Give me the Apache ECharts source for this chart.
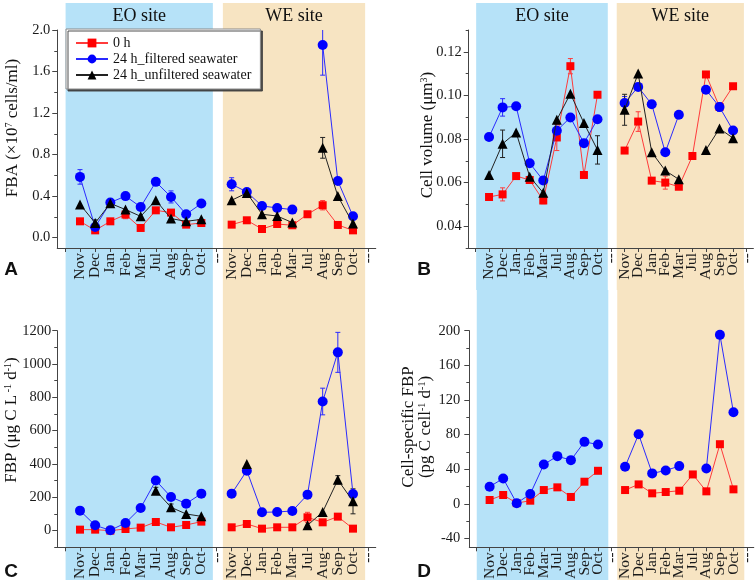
<!DOCTYPE html>
<html><head><meta charset="utf-8">
<script src="https://cdn.jsdelivr.net/npm/echarts@6/dist/echarts.min.js"></script>
<style>html,body{margin:0;padding:0;background:#fff}#c{width:755px;height:582px}</style>
</head><body><div id="c"></div>
<script>
// ---------- DATA ----------
const months = ['Nov','Dec','Jan','Feb','Mar','Jul','Aug','Sep','Oct'];
const seriesNames = ['0 h','24 h_filtered seawater','24 h_unfiltered seawater'];
const siteNames = ['EO site','WE site'];

// Panel A: FBA (x10^7 cells/ml)
const fbaEO_0h   = [0.157,0.07,0.157,0.222,0.093,0.263,0.241,0.125,0.141];
const fbaEO_filt = [0.585,0.102,0.338,0.40,0.295,0.537,0.392,0.225,0.328];
const fbaEO_unf  = [0.32,0.141,0.33,0.27,0.205,0.36,0.183,0.157,0.176];
const fbaWE_0h   = [0.125,0.167,0.083,0.131,0.119,0.225,0.312,0.122,0.07];
const fbaWE_filt = [0.514,0.44,0.305,0.286,0.27,null,1.855,0.546,0.205];
const fbaWE_unf  = [0.36,0.43,0.225,0.208,0.145,null,0.865,0.40,0.135];
const fbaErrEO_0h   = [null,null,null,0.04,null,0.02,null,null,null];
const fbaErrEO_filt = [0.07,null,null,null,null,null,0.058,null,null];
const fbaErrEO_unf  = [null,0.03,null,null,null,null,null,null,null];
const fbaErrWE_0h   = [null,null,null,null,null,null,0.045,null,null];
const fbaErrWE_filt = [0.063,null,null,null,null,null,0.29,null,null];
const fbaErrWE_unf  = [null,null,null,null,null,null,0.1,null,null];

// Panel B: Cell volume (um3)
const volEO_0h   = [0.0534,0.0546,0.063,0.0612,0.0518,0.0807,0.1134,0.0635,0.1003];
const volEO_filt = [0.0809,0.0945,0.095,0.0689,0.061,0.0838,0.0899,0.0781,0.0891];
const volEO_unf  = [0.0635,0.0778,0.083,0.0627,0.0553,0.0888,0.1008,0.0873,0.075];
const volWE_0h   = [0.0747,0.088,0.0609,0.06,0.0581,0.0722,0.1096,0.0947,0.1042];
const volWE_filt = [0.0965,0.1039,0.0959,0.0739,0.0911,null,0.1026,0.0947,0.0839];
const volWE_unf  = [0.0934,0.11,0.0739,0.0655,0.0615,null,0.075,0.0848,0.0804];
const volErrEO_0h   = [0.0015,0.003,null,null,0.0015,0.006,0.0035,null,null];
const volErrEO_filt = [0.0015,0.004,null,null,null,0.002,null,null,null];
const volErrEO_unf  = [null,0.0063,null,null,null,null,null,null,0.0065];
const volErrWE_0h   = [null,0.0045,null,0.003,null,null,null,null,null];
const volErrWE_filt = [0.003,null,null,null,null,null,null,0.002,null];
const volErrWE_unf  = [0.0071,null,null,null,null,null,null,null,null];

// Panel C: FBP (ug C L-1 d-1)
const fbpEO_0h   = [6,6,0,10,18,52,20,34,54];
const fbpEO_filt = [120,32,2,46,136,301,202,162,222];
const fbpEO_unf  = [null,null,null,null,null,240,140,100,86];
const fbpWE_0h   = [20,40,12,20,20,80,50,84,12];
const fbpWE_filt = [222,360,110,112,118,216,775,1070,220];
const fbpWE_unf  = [null,400,null,null,null,32,112,305,176];
const fbpErrEO_0h   = [null,null,null,null,null,null,null,null,null];
const fbpErrEO_filt = [null,null,null,null,null,null,null,null,null];
const fbpErrEO_unf  = [null,null,null,null,null,20,20,null,null];
const fbpErrWE_0h   = [null,null,null,null,null,30,null,null,null];
const fbpErrWE_filt = [null,null,null,null,null,null,80,120,null];
const fbpErrWE_unf  = [null,null,null,null,null,null,null,25,75];

// Panel D: Cell-specific FBP (pg C cell-1 d-1)
const csEO_0h   = [4.6,10.4,1,3.8,16.1,19.2,8.1,25.7,38.3];
const csEO_filt = [19.9,29.5,0.8,11.5,45.6,55.2,50.6,71.7,68.6];
const csWE_0h   = [16.1,22.6,12.3,13.8,15.3,34.1,14.6,69,16.9];
const csWE_filt = [42.9,80.5,35.3,38.7,43.7,null,41,195.2,105.8];

// Axis ticks
const ticksA = [0.0,0.4,0.8,1.2,1.6,2.0];   const minorA = [0.2,0.6,1.0,1.4,1.8];
const ticksB = [0.04,0.06,0.08,0.10,0.12];  const minorB = [0.03,0.05,0.07,0.09,0.11,0.13];
const ticksC = [0,200,400,600,800,1000,1200]; const minorC = [-100,100,300,500,700,900,1100];
const ticksD = [-40,0,40,80,120,160,200];   const minorD = [-20,20,60,100,140,180];

// ---------- STYLE / LAYOUT ----------
const SERIF = '"Liberation Serif","Times New Roman",serif';
const SANS = '"Liberation Sans",Arial,sans-serif';
const BLUE_BG = '#b6e2f8', BEIGE_BG = '#f7e4c2';
const styles = [
  {marker:'#ff0000', line:'#ff3b3b', symbol:'rect', size:8},
  {marker:'#0000ff', line:'#2a2aff', symbol:'circle', size:10},
  {marker:'#000000', line:'#222222', symbol:'triangle', size:10}
];
const cats = [''].concat(months, ['--'], months, ['--']);
const full = (eo, we) => [null].concat(eo, [null], we, [null]);

const panels = [
  {grid:{left:57.25, top:30, width:318.5, height:218}, min:-0.1, max:2.0, ticks:ticksA, minor:minorA, fmt:v=>v.toFixed(1), margin:7,
   eo:[fbaEO_0h,fbaEO_filt,fbaEO_unf], we:[fbaWE_0h,fbaWE_filt,fbaWE_unf],
   eoErr:[fbaErrEO_0h,fbaErrEO_filt,fbaErrEO_unf], weErr:[fbaErrWE_0h,fbaErrWE_filt,fbaErrWE_unf]},
  {grid:{left:468.7, top:30, width:284.7, height:218}, min:0.03, max:0.13, ticks:ticksB, minor:minorB, fmt:v=>v.toFixed(2), margin:7,
   eo:[volEO_0h,volEO_filt,volEO_unf], we:[volWE_0h,volWE_filt,volWE_unf],
   eoErr:[volErrEO_0h,volErrEO_filt,volErrEO_unf], weErr:[volErrWE_0h,volErrWE_filt,volErrWE_unf]},
  {grid:{left:57.25, top:330.7, width:318.5, height:217}, min:-100, max:1200, ticks:ticksC, minor:minorC, fmt:v=>String(v), margin:6,
   eo:[fbpEO_0h,fbpEO_filt,fbpEO_unf], we:[fbpWE_0h,fbpWE_filt,fbpWE_unf],
   eoErr:[fbpErrEO_0h,fbpErrEO_filt,fbpErrEO_unf], weErr:[fbpErrWE_0h,fbpErrWE_filt,fbpErrWE_unf]},
  {grid:{left:469.3, top:330.7, width:284.7, height:217}, min:-50, max:200, ticks:ticksD, minor:minorD, fmt:v=>String(v), margin:9,
   eo:[csEO_0h,csEO_filt], we:[csWE_0h,csWE_filt], eoErr:[], weErr:[]}
];

const grids = [], xAxes = [], yAxes = [], series = [];
panels.forEach((p, k) => {
  grids.push(p.grid);
  xAxes.push({type:'category', gridIndex:k, data:cats, boundaryGap:true,
    axisLine:{onZero:false, lineStyle:{color:'#444', width:1}},
    axisTick:{show:true, alignWithLabel:true, interval:0, length:4, lineStyle:{color:'#444'}},
    axisLabel:{interval:0, rotate:90, margin:5, fontFamily:SERIF, fontSize:15.5, color:'#1a1a1a'},
    splitLine:{show:false}});
  yAxes.push({type:'value', gridIndex:k, position:'left', min:p.min, max:p.max,
    axisLine:{show:true, lineStyle:{color:'#444', width:1}},
    axisTick:{show:true, length:5, customValues:p.ticks, lineStyle:{color:'#444'}},
    axisLabel:{customValues:p.ticks, formatter:p.fmt, margin:p.margin, fontFamily:SERIF, fontSize:14.5, color:'#1a1a1a'},
    splitLine:{show:false}});
  yAxes.push({type:'value', gridIndex:k, position:'left', offset:0, min:p.min, max:p.max,
    axisLine:{show:false},
    axisTick:{show:true, length:3, customValues:p.minor, lineStyle:{color:'#444'}},
    axisLabel:{show:false}, splitLine:{show:false}});
  p.eo.forEach((eo, s) => {
    const st = styles[s];
    series.push({type:'line', name:seriesNames[s], xAxisIndex:k, yAxisIndex:2*k,
      data:full(eo, p.we[s]), symbol:st.symbol, symbolSize:st.size, showAllSymbol:true,
      connectNulls:false, itemStyle:{color:st.marker}, lineStyle:{color:st.line, width:1},
      emphasis:{disabled:true}, animation:false, z:3+s});
    const eoE = p.eoErr[s] || [], weE = p.weErr[s] || [];
    const errData = [];
    const vals = full(eo, p.we[s]);
    const errs = full(eoE.length ? eoE : eo.map(()=>null), weE.length ? weE : p.we[s].map(()=>null));
    vals.forEach((v, i) => { if (v != null && errs[i] != null) errData.push([i, v - errs[i], v + errs[i]]); });
    if (errData.length) {
      series.push({type:'custom', xAxisIndex:k, yAxisIndex:2*k, data:errData, clip:true, animation:false, z:2+s,
        renderItem:(params, api) => {
          const x = api.value(0);
          const lo = api.coord([x, api.value(1)]);
          const hi = api.coord([x, api.value(2)]);
          const hw = 2.5;
          const style = {stroke:st.line, lineWidth:1};
          return {type:'group', children:[
            {type:'line', shape:{x1:lo[0], y1:lo[1], x2:hi[0], y2:hi[1]}, style},
            {type:'line', shape:{x1:lo[0]-hw, y1:lo[1], x2:lo[0]+hw, y2:lo[1]}, style},
            {type:'line', shape:{x1:hi[0]-hw, y1:hi[1], x2:hi[0]+hw, y2:hi[1]}, style}
          ]};
        }});
    }
  });
});

const chart = echarts.init(document.getElementById('c'), null, {renderer:'canvas'});
chart.setOption({
  animation:false,
  backgroundColor:'#ffffff',
  grid:grids, xAxis:xAxes, yAxis:yAxes, series:series,
  legend:{show:true, left:66, top:29, orient:'vertical', data:seriesNames,
    backgroundColor:'#ffffff', borderColor:'#8a8a8a', borderWidth:1,
    shadowColor:'rgba(60,60,60,0.9)', shadowOffsetX:2, shadowOffsetY:2, shadowBlur:0,
    padding:[7,9,7,9], itemWidth:32, itemHeight:11, itemGap:2, selectedMode:false,
    textStyle:{fontFamily:SERIF, fontSize:14, color:'#111'}}
});

// ---------- background shading, titles and labels ----------
const gfx = [];
for (let k = 0; k < 4; k++) {
  const px = i => {
    const r = chart.convertToPixel({xAxisIndex:k}, i);
    return Array.isArray(r) ? r[0] : r;
  };
  const w = px(1) - px(0);
  const top = k < 2 ? 3 : 290, bot = k < 2 ? 290 : 580;
  const b1 = px(0) + 0.05*w, b2 = px(10) - 0.24*w;
  const e1 = px(10) + 0.42*w, e2 = px(20) - 0.2*w;
  gfx.push({type:'rect', z:-10, shape:{x:b1, y:top, width:b2-b1, height:bot-top}, style:{fill:BLUE_BG}, silent:true});
  gfx.push({type:'rect', z:-10, shape:{x:e1, y:top, width:e2-e1, height:bot-top}, style:{fill:BEIGE_BG}, silent:true});
  if (k < 2) {
    gfx.push({type:'text', x:(b1+b2)/2, y:16, style:{text:siteNames[0], fontFamily:SERIF, fontSize:18, fill:'#111', align:'center', verticalAlign:'middle'}});
    gfx.push({type:'text', x:(e1+e2)/2, y:16, style:{text:siteNames[1], fontFamily:SERIF, fontSize:18, fill:'#111', align:'center', verticalAlign:'middle'}});
  }
}
const rich = {n:{fontFamily:SERIF, fontSize:17, fill:'#111'}, s:{fontFamily:SERIF, fontSize:10, fill:'#111', verticalAlign:'top'}};
const yTitles = [
  {x:13, y:128, text:'{n|FBA (×10}{s|7}{n| cells/ml)}'},
  {x:428, y:135, text:'{n|Cell volume (μm}{s|3}{n|)}'},
  {x:12, y:420, text:'{n|FBP (μg C L}{s| -1}{n| d}{s|-1}{n|)}'},
  {x:417, y:427, text:'{n|Cell-specific FBP}\n{n|(pg C cell}{s|-1}{n| d}{s|-1}{n|)}'}
];
yTitles.forEach(t => gfx.push({type:'text', x:t.x, y:t.y, rotation:Math.PI/2,
  style:{text:t.text, rich:rich, align:'center', verticalAlign:'middle', fill:'#111'}}));
[['A',11,270],['B',424,270],['C',11,572],['D',424,572]].forEach(l => gfx.push({type:'text', x:l[1], y:l[2],
  style:{text:l[0], fontFamily:SANS, fontWeight:'bold', fontSize:19, fill:'#111', align:'center', verticalAlign:'middle'}}));
chart.setOption({graphic:gfx});
</script></body></html>
